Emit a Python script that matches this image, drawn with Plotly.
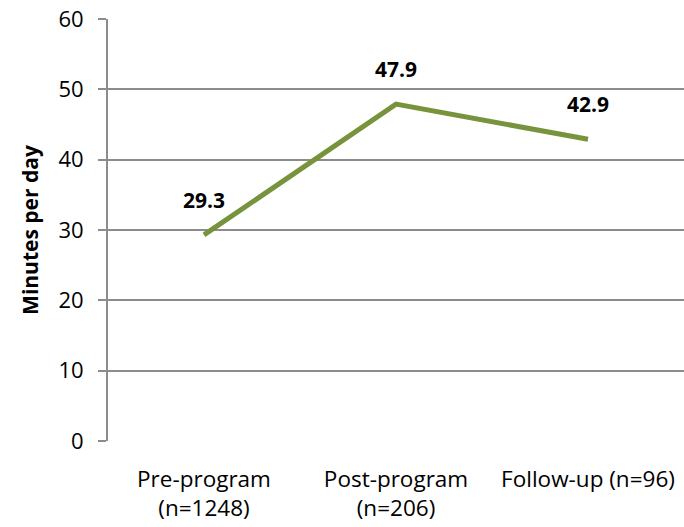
import plotly.graph_objects as go

categories = ["Pre-program<br>(n=1248)", "Post-program<br>(n=206)", "Follow-up (n=96)"]
values = [29.3, 47.9, 42.9]
y_ticks = [0, 10, 20, 30, 40, 50, 60]

FONT = "Open Sans"
GRID = "#8c8c8c"

fig = go.Figure()
fig.add_trace(go.Scatter(
    x=list(range(len(categories))), y=values, mode="lines",
    line=dict(color="#77933C", width=5), hoverinfo="skip", showlegend=False,
))
for i, v in enumerate(values):
    fig.add_annotation(x=i, y=v, text=f"<b>{v:.1f}</b>", showarrow=False,
                       yshift=35, font=dict(family=FONT, size=21, color="black"))

fig.update_layout(
    width=684, height=527,
    margin=dict(l=108, r=0, t=19, b=86),
    paper_bgcolor="white", plot_bgcolor="white",
    font=dict(family=FONT, size=21, color="black"),
    xaxis=dict(range=[-0.5, 2.5], tickmode="array", tickvals=list(range(len(categories))),
               ticktext=categories, showgrid=False, showline=False, zeroline=False,
               ticks="", tickfont=dict(size=22.5), ticklabelstandoff=22),
    yaxis=dict(range=[0, 60], tickmode="array", tickvals=y_ticks,
               showgrid=True, gridcolor=GRID, gridwidth=2, zeroline=False,
               showline=True, linecolor=GRID, linewidth=2,
               ticks="outside", ticklen=8, tickwidth=2, tickcolor=GRID,
               ticklabelstandoff=10, tickfont=dict(size=22),
               title=dict(text="<b>Minutes per day</b>", font=dict(size=21), standoff=14)),
)
fig.write_html("out.html")
